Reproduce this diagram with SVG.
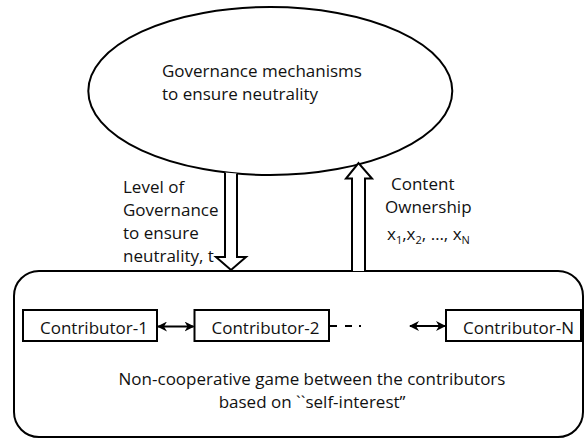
<svg xmlns="http://www.w3.org/2000/svg" width="584" height="439" viewBox="0 0 584 439">
<defs>
<style>
text{font-family:"Open Sans","Liberation Sans",sans-serif;font-size:17px;fill:#111}
.sh{fill:#fff;stroke:#000;stroke-width:2}
.ln{stroke:#000;stroke-width:2;fill:none}
.sub{font-size:11px}
</style>
<marker id="ah" viewBox="0 0 10 10" refX="9" refY="5" markerWidth="5" markerHeight="5" orient="auto-start-reverse" markerUnits="strokeWidth">
<path d="M0,0 L10,5 L0,10 L3,5 Z" fill="#000"/>
</marker>
</defs>
<rect width="584" height="439" fill="#fff"/>
<g id="governance">
<ellipse class="sh" cx="270.3" cy="91" rx="182" ry="84"/>
<text x="162" y="77">Governance mechanisms</text>
<text x="162" y="100">to ensure neutrality</text>
</g>
<g id="game">
<rect class="sh" x="14" y="271" width="569" height="166" rx="25" ry="25"/>
<text x="312" y="385" text-anchor="middle">Non-cooperative game between the contributors</text>
<text x="312" y="408" text-anchor="middle">based on ``self-interest’’</text>
</g>
<g id="contributor-1">
<rect class="sh" x="23" y="310" width="134" height="31"/>
<text x="40" y="334">Contributor-1</text>
</g>
<g id="contributor-2">
<rect class="sh" x="194.5" y="310" width="134.5" height="31"/>
<text x="211.5" y="334">Contributor-2</text>
</g>
<g id="contributor-n">
<rect class="sh" x="446" y="310" width="135" height="31"/>
<text x="463" y="334">Contributor-N</text>
</g>
<g id="connectors">
<path class="sh" d="M225,172.5 V257 H216 L231,270 L246,257 H237 V173.5"/>
<path class="sh" d="M352,271 V178.5 H346 L358.5,163 L372,178.5 H365 V271"/>
<line class="ln" x1="158" y1="326.5" x2="193.5" y2="326.5" marker-start="url(#ah)" marker-end="url(#ah)"/>
<line class="ln" x1="410" y1="326" x2="445" y2="326" marker-start="url(#ah)" marker-end="url(#ah)"/>
<line class="ln" x1="330" y1="326" x2="337" y2="326"/>
<line class="ln" x1="345" y1="326" x2="352" y2="326"/>
<line class="ln" x1="359" y1="326" x2="361" y2="326"/>
<text x="123" y="193">Level of</text>
<text x="123" y="216">Governance</text>
<text x="123" y="239">to ensure</text>
<text x="123" y="262">neutrality, t</text>
<text x="391" y="190">Content</text>
<text x="385" y="213">Ownership</text>
<text x="387" y="240">x<tspan class="sub" dy="4">1</tspan><tspan dy="-4">,x</tspan><tspan class="sub" dy="4">2</tspan><tspan dy="-4">, …, x</tspan><tspan class="sub" dy="4">N</tspan></text>
</g>
</svg>
